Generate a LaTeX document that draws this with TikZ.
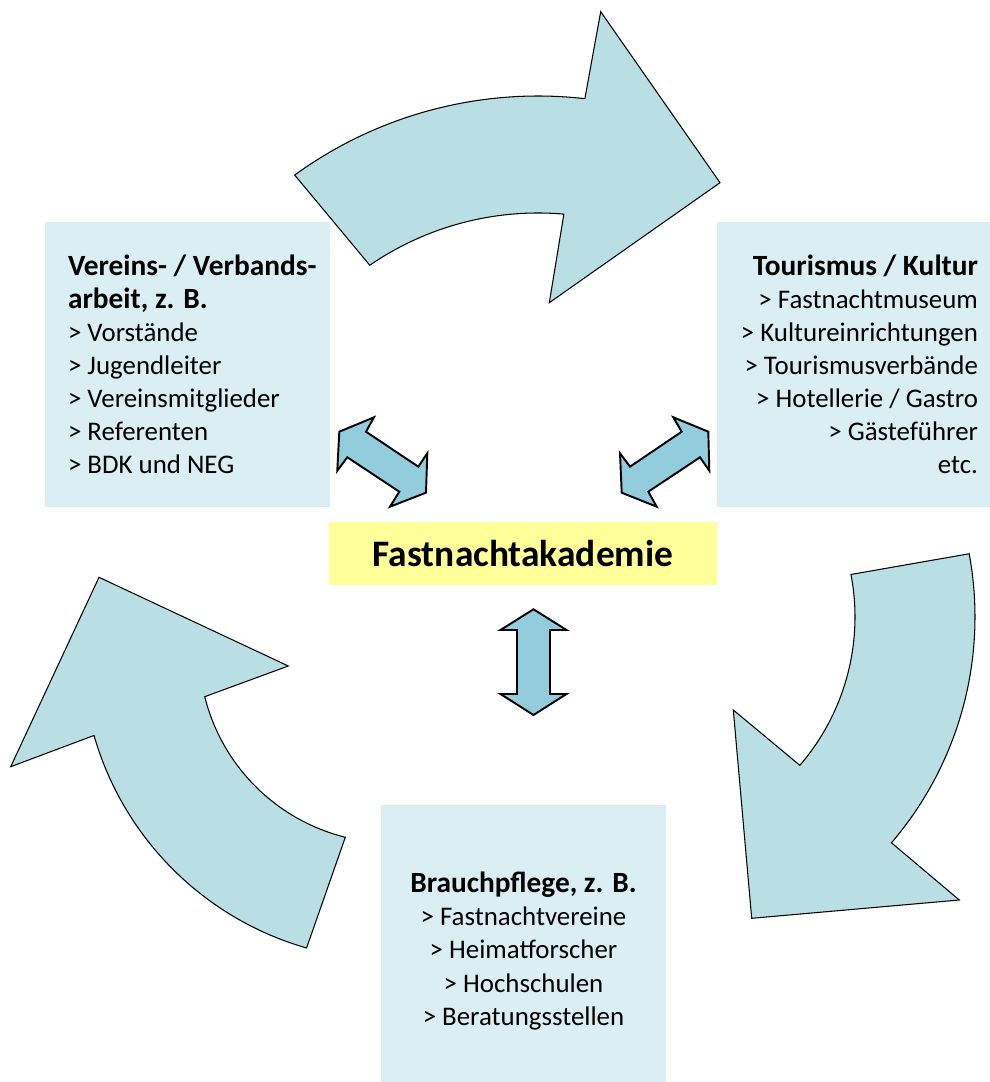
\documentclass[tikz,border=0pt]{standalone}
\usepackage{fontspec}
\setmainfont{Carlito}
\usetikzlibrary{positioning,calc}
\definecolor{BoxBlue}{HTML}{DAEEF3}
\definecolor{RingBlue}{HTML}{B9DFE4}
\definecolor{LinkBlue}{HTML}{93CDDD}
\definecolor{AcadYellow}{HTML}{FFFF99}
\newcommand{\headfont}{\fontsize{16.7}{19.6}\selectfont\bfseries}

\begin{document}
\begin{tikzpicture}[
    x=0.02cm, y=0.02cm,
    box/.style={rectangle, fill=BoxBlue, inner sep=0pt},
    boxtext/.style={inner sep=0pt, font=\fontsize{15.3}{18.8}\selectfont},
    ringarrow/.style={draw=black, fill=RingBlue, line width=0.6pt, line join=miter},
    linkarrow/.style={draw=black, fill=LinkBlue, line width=1.1pt, line join=miter}
  ]
    \useasboundingbox (0,0) rectangle (990,1082);

    % Boxes
    \node[box, minimum width=5.7cm, minimum height=5.7cm] (verein) at (187.5,717.5) {};
    \node[box, minimum width=5.46cm, minimum height=5.7cm] (tourismus) at (853.5,717.5) {};
    \node[box, minimum width=5.7cm, minimum height=5.54cm] (brauch) at (523.5,138.5) {};
    \node[box, fill=AcadYellow, minimum width=7.76cm, minimum height=1.26cm,
          font=\fontsize{21.3}{25}\selectfont\bfseries] (akademie) at (523,528.5) {Fastnachtakademie};

    % Box texts
    \node[boxtext, align=left, anchor=west] (vereintext) at ([xshift=0.46cm]verein.west)
      {{\headfont Vereins- / Verbands-}\\{\headfont arbeit, z. B.}\\> Vorstände\\> Jugendleiter\\> Vereinsmitglieder\\> Referenten\\> BDK und NEG};
    \node[boxtext, align=right, anchor=east] (tourismustext) at ([xshift=-0.24cm]tourismus.east)
      {{\headfont Tourismus / Kultur}\\> Fastnachtmuseum\\> Kultureinrichtungen\\> Tourismusverbände\\> Hotellerie / Gastro\\> Gästeführer\\etc.};
    \node[boxtext, align=center] (brauchtext) at ([yshift=-0.15cm]brauch.center)
      {{\headfont Brauchpflege, z. B.}\\> Fastnachtvereine\\> Heimatforscher\\> Hochschulen\\> Beratungsstellen};

    % Ring of curved arrows
    \coordinate (ctop) at (538,572);
    \coordinate (cright) at (628,465);
    \coordinate (cleft) at (392,432);
    \draw[ringarrow] ($(ctop)+(126:414)$) arc[start angle=126, end angle=83.5, radius=414]
      -- (600.7,1070.3) -- (720,899.3) -- (549.3,779.3) -- ($(ctop)+(85:297)$)
      arc[start angle=85, end angle=124.5, radius=297] -- cycle;
    \draw[ringarrow] ($(cright)+(10.5:347)$) arc[start angle=10.5, end angle=-40.6, radius=347]
      -- (959.3,182) -- (751.7,163.7) -- (733.3,372) -- ($(cright)+(-40.8:227)$)
      arc[start angle=-40.8, end angle=10.8, radius=227] -- cycle;
    \draw[ringarrow] ($(cleft)+(-106:310)$) arc[start angle=-106, end angle=-164, radius=310]
      -- (10.7,315.3) -- (99,504.7) -- (288.3,416) -- ($(cleft)+(-166:193)$)
      arc[start angle=-166, end angle=-104, radius=193] -- cycle;

    % Double arrows to the academy
    \draw[linkarrow] (339.3,650.3) -- (374,664.7) -- (366,650.3) -- (418.3,615.3) -- (427.3,628.7)
      -- (426,589.3) -- (390,575.3) -- (399.3,590.3) -- (347.3,624.7) -- (337.3,611.3) -- cycle;
    \draw[linkarrow] (708.3,650.3) -- (673.3,664.7) -- (681.7,650.3) -- (630,615.3) -- (620,628.7)
      -- (621.7,589.3) -- (656.7,575.3) -- (648.3,590.3) -- (700,624.7) -- (709.3,611.3) -- cycle;
    \draw[linkarrow] (533.5,472.7) -- (566.5,452) -- (550,452) -- (550,388) -- (566.5,388)
      -- (533.5,367) -- (500.5,388) -- (517,388) -- (517,452) -- (500.5,452) -- cycle;
\end{tikzpicture}
\end{document}
